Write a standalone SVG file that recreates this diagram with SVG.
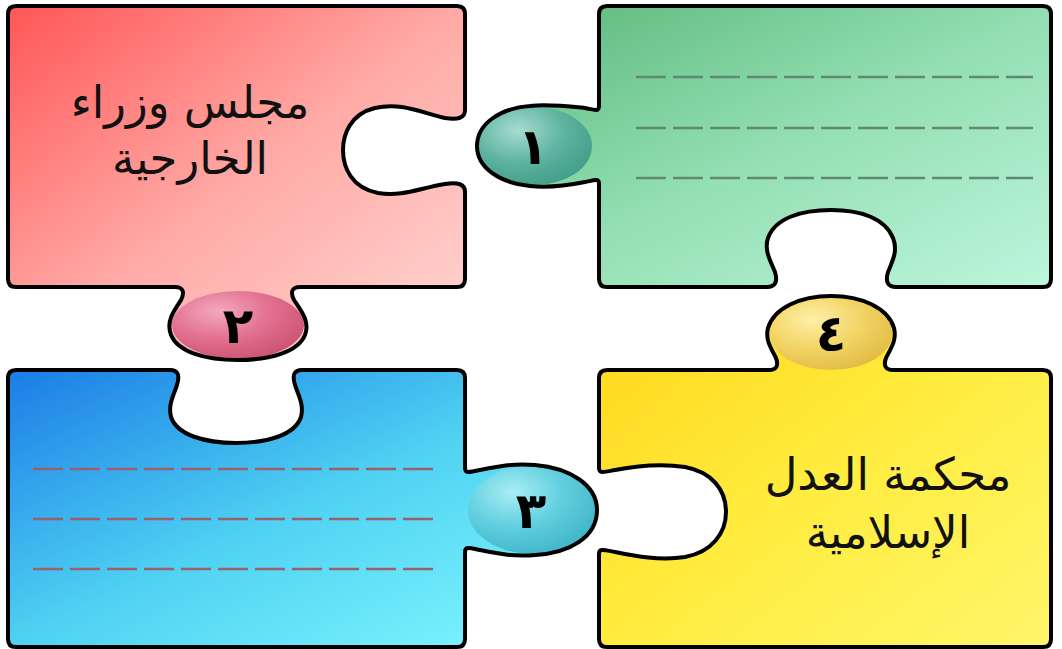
<svg xmlns="http://www.w3.org/2000/svg" width="1062" height="649" viewBox="0 0 1062 649">
<defs>
<linearGradient id="gPink" x1="0" y1="0" x2="1" y2="1"><stop offset="0" stop-color="#ff5656"/><stop offset="0.5" stop-color="#ffaaa6"/><stop offset="1" stop-color="#ffd8d4"/></linearGradient>
<linearGradient id="gGreen" x1="0" y1="0" x2="1" y2="1"><stop offset="0" stop-color="#58b676"/><stop offset="0.5" stop-color="#92deb2"/><stop offset="1" stop-color="#bdf6dc"/></linearGradient>
<linearGradient id="gBlue" x1="0" y1="0" x2="1" y2="1"><stop offset="0" stop-color="#1a7ce6"/><stop offset="0.5" stop-color="#4fd2f2"/><stop offset="1" stop-color="#84faff"/></linearGradient>
<linearGradient id="gYellow" x1="0" y1="0" x2="1" y2="1"><stop offset="0" stop-color="#ffd518"/><stop offset="0.5" stop-color="#ffec3e"/><stop offset="1" stop-color="#fff66a"/></linearGradient>
<radialGradient id="b1" cx="0.35" cy="0.3" r="0.8"><stop offset="0" stop-color="#a8dcd0"/><stop offset="0.5" stop-color="#5eb4a0"/><stop offset="1" stop-color="#3e9a86"/></radialGradient>
<radialGradient id="b2" cx="0.35" cy="0.3" r="0.8"><stop offset="0" stop-color="#f4a8c0"/><stop offset="0.5" stop-color="#e2708e"/><stop offset="1" stop-color="#c8506e"/></radialGradient>
<radialGradient id="b3" cx="0.35" cy="0.3" r="0.8"><stop offset="0" stop-color="#a8eef4"/><stop offset="0.5" stop-color="#60cede"/><stop offset="1" stop-color="#3cb2c6"/></radialGradient>
<radialGradient id="b4" cx="0.35" cy="0.3" r="0.8"><stop offset="0" stop-color="#fff0a8"/><stop offset="0.5" stop-color="#f2d466"/><stop offset="1" stop-color="#e0b840"/></radialGradient>
<path id="pPink" d="M16,6 H457 Q465,6 465,14 V110 C465,118 458,120 445,118 C420,112 400,102 375,108 C350,114 343,135 343,150 C343,168 352,188 378,193 C402,197 420,188 445,184 C458,182 465,184 465,192 V279 Q465,287 457,287 H300 C292,287 290,292 294,300 C302,312 310,322 305,335 C298,352 270,360 238,360 C205,360 178,352 171,335 C166,322 173,312 181,300 C185,292 183,287 175,287 H16 Q8,287 8,279 V14 Q8,6 16,6 Z"/>
<path id="pGreen" d="M607,6 H1043 Q1051,6 1051,14 V279 Q1051,287 1043,287 H896 C888,287 885,282 888,272 C893,260 898,250 893,238 C885,218 860,210 831,210 C802,210 775,218 768,238 C764,250 770,260 775,272 C778,282 775,287 767,287 H607 Q599,287 599,279 V184 C599,178 595,180 585,182 C565,186 548,188 530,186 C500,183 477,168 477,146 C477,124 500,108 530,106 C548,104 565,106 585,108 C595,110 599,112 599,106 V14 Q599,6 607,6 Z"/>
<path id="pBlue" d="M16,370 H170 C178,370 180,375 177,385 C173,397 168,405 171,417 C177,435 205,443 236,443 C267,443 295,435 301,417 C304,405 299,397 295,385 C292,375 294,370 302,370 H457 Q465,370 465,378 V468 C465,474 470,472 480,470 C500,466 515,463 535,465 C570,468 597,485 597,510 C597,537 570,553 535,555 C515,557 500,554 480,550 C470,548 465,546 465,552 V639 Q465,647 457,647 H16 Q8,647 8,639 V378 Q8,370 16,370 Z"/>
<path id="pYellow" d="M607,370 H769 C776,370 779,366 776,358 C771,348 765,340 768,328 C774,308 800,296 831,296 C862,296 888,308 894,328 C897,340 891,348 886,358 C883,366 886,370 893,370 H1043 Q1051,370 1051,378 V639 Q1051,647 1043,647 H607 Q599,647 599,639 V554 C599,548 604,550 615,552 C635,556 660,561 685,557 C712,552 726,533 726,512 C726,490 712,472 685,467 C660,463 635,466 615,470 C604,472 599,474 599,468 V378 Q599,370 607,370 Z"/>
</defs>
<style>
.outline{fill:none;stroke:#000;stroke-width:4;stroke-linejoin:round}
.label{font-family:"DejaVu Sans",sans-serif;font-size:45px;fill:#111;text-anchor:middle}
.num{font-family:"DejaVu Sans",sans-serif;font-size:50px;font-weight:bold;fill:#000;text-anchor:middle}
.dashG{stroke:#5f8a70;stroke-width:2.5;stroke-dasharray:30 7;fill:none}
.dashB{stroke:#9a6070;stroke-width:2.5;stroke-dasharray:30 7;fill:none}
</style>
<rect width="1062" height="649" fill="#fff"/>
<g id="piece-pink">
<use href="#pPink" fill="url(#gPink)"/>
<ellipse cx="238" cy="325" rx="66" ry="34" fill="url(#b2)"/>
<use href="#pPink" class="outline"/>
<text class="label" x="190" y="118">مجلس وزراء</text>
<text class="label" x="190" y="174">الخارجية</text>
<text class="num" x="238" y="343">٢</text>
</g>
<g id="piece-green">
<use href="#pGreen" fill="url(#gGreen)"/>
<ellipse cx="535" cy="146" rx="57" ry="39" fill="url(#b1)"/>
<use href="#pGreen" class="outline"/>
<path class="dashG" d="M636,77 H1033 M636,128 H1033 M636,178 H1033"/>
<text class="num" x="533" y="164">١</text>
</g>
<g id="piece-blue">
<use href="#pBlue" fill="url(#gBlue)"/>
<ellipse cx="532" cy="510" rx="64" ry="44" fill="url(#b3)"/>
<use href="#pBlue" class="outline"/>
<path class="dashB" d="M33,469 H433 M33,519 H433 M33,569 H433"/>
<text class="num" x="531" y="528">٣</text>
</g>
<g id="piece-yellow">
<use href="#pYellow" fill="url(#gYellow)"/>
<ellipse cx="831" cy="334" rx="61" ry="36" fill="url(#b4)"/>
<use href="#pYellow" class="outline"/>
<text class="label" x="888" y="490">محكمة العدل</text>
<text class="label" x="888" y="548">الإسلامية</text>
<text class="num" x="831" y="351">٤</text>
</g>
<g id="connectors"/>
</svg>
